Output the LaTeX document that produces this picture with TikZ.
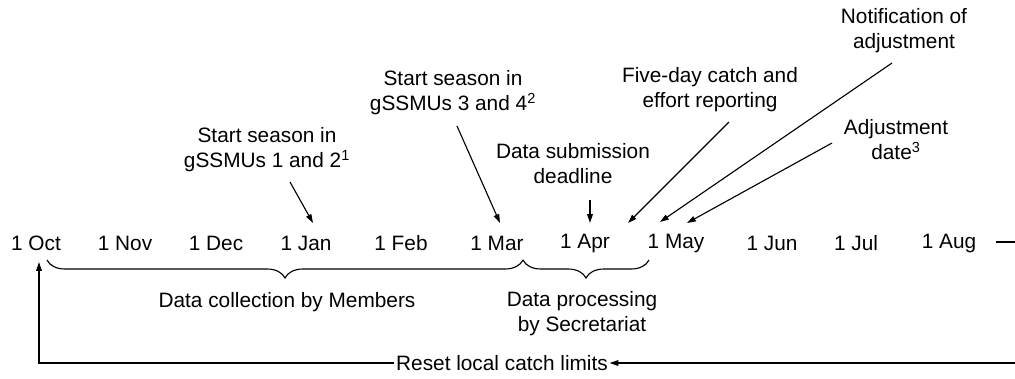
\documentclass[tikz,border=0pt]{standalone}
\usepackage{fontspec}
\setmainfont{Liberation Sans}
\usetikzlibrary{arrows.meta,decorations.pathreplacing}
\newcommand{\lw}{0.8pt}
\tikzset{
  month/.style={inner sep=1pt},
  note/.style={align=center, inner sep=1pt},
  pointer/.style={-{Triangle[length=2.2mm,width=1.4mm]}, line width=\lw},
  span/.style={decorate, decoration={brace, mirror, amplitude=0.45cm}, line width=\lw},
}

\begin{document}
\begin{tikzpicture}[x=0.025cm, y=-0.025cm, font=\fontsize{14.8}{17.8}\selectfont]
    \useasboundingbox (0,0) rectangle (1015,378);
    % time line
    \foreach \x/\m/\n in {36/Oct/oct, 125/Nov/nov, 216/Dec/dec, 306/Jan/jan,
                          401/Feb/feb, 497/Mar/mar, 585/Apr/apr, 676/May/may,
                          772/Jun/jun, 856/Jul/jul, 949/Aug/aug}
        \node[month] (\n) at (\x,243) {1 \m};
    \coordinate (dashL) at (996,242);
    \coordinate (dashR) at (1015,242);
    \draw[line width=\lw] (dashL) -- (dashR);

    % events above the line
    \node[note] (startA) at (267,149.5) {Start season in\\gSSMUs 1 and 2\textsuperscript{1}};
    \node[note] (startB) at (453,93) {Start season in\\gSSMUs 3 and 4\textsuperscript{2}};
    \node[note] (submit) at (573,163.5) {Data submission\\deadline};
    \node[note] (fiveday) at (710,89.5) {Five-day catch and\\effort reporting};
    \node[note] (notify) at (904,31) {Notification of\\adjustment};
    \node[note] (adjust) at (896,140) {Adjustment\\date\textsuperscript{3}};

    \coordinate (startA-from) at (290,182);  \coordinate (startA-to) at (313,223);
    \coordinate (startB-from) at (457,126);  \coordinate (startB-to) at (500,223);
    \coordinate (submit-from) at (590,200);  \coordinate (submit-to) at (590,223);
    \coordinate (fiveday-from) at (729,122); \coordinate (fiveday-to) at (628,223);
    \coordinate (notify-from) at (892,63);   \coordinate (notify-to) at (660,222);
    \coordinate (adjust-from) at (832,143);  \coordinate (adjust-to) at (687,223);
    \foreach \e in {startA, startB, submit, fiveday, notify, adjust}
        \draw[pointer] (\e-from) -- (\e-to);

    % periods below the line
    \coordinate (collectL) at (47,260);
    \coordinate (collectR) at (523,260);
    \coordinate (processR) at (649,260);
    \draw[span] (collectL) -- (collectR);
    \draw[span] (collectR) -- (processR);
    \node[note] (collect) at (287,302) {Data collection by Members};
    \node[note] (process) at (582,313.5) {Data processing\\by Secretariat};

    % reset loop
    \node[note] (reset) at (502,363) {Reset local catch limits};
    \coordinate (resetR) at (1015,363);
    \coordinate (resetUp) at (39,262);
    \draw[pointer] (resetR) -- (reset.east);
    \draw[pointer] (reset.west) -| (resetUp);
\end{tikzpicture}
\end{document}
